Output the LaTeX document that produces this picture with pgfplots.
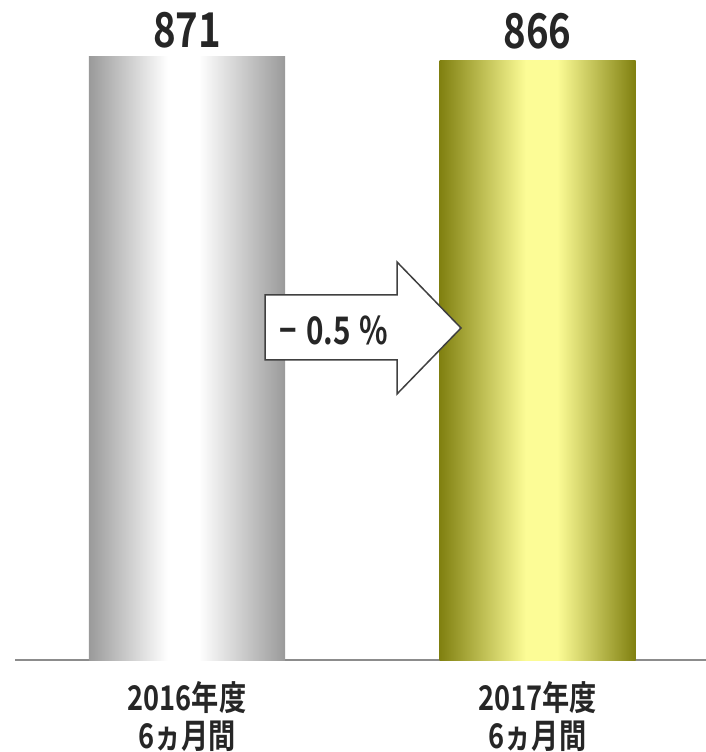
\documentclass[border=0pt]{standalone}
\usepackage{fontspec}
\usepackage{graphicx}
\usepackage{pgfplots}
\pgfplotsset{compat=1.18}
\newfontfamily\cjk{Noto Sans CJK JP Bold}
\definecolor{gA}{HTML}{9A9A9A}
\definecolor{oA}{HTML}{808010}
\definecolor{oB}{HTML}{FCFC96}
\definecolor{txt}{HTML}{262626}
\definecolor{axc}{HTML}{8C8C8C}
\pgfdeclarehorizontalshading{grayshade}{100bp}{color(0bp)=(gA); color(25bp)=(gA); color(45bp)=(white); color(53bp)=(white); color(75bp)=(gA); color(100bp)=(gA)}
\pgfdeclarehorizontalshading{oliveshade}{100bp}{color(0bp)=(oA); color(25bp)=(oA); color(47bp)=(oB); color(55bp)=(oB); color(75bp)=(oA); color(100bp)=(oA)}
\begin{document}
\begin{tikzpicture}[x=1pt,y=1pt]
\path[use as bounding box] (0,0) rectangle (706,752);
\begin{axis}[
  at={(15pt,92pt)}, anchor=south west,
  scale only axis, width=691pt, height=657.7pt,
  xmin=-0.4907, xmax=1.4807, ymin=0, ymax=950,
  axis x line*=bottom, axis y line=none,
  x axis line style={draw=axc, line width=2pt},
  xtick={0,1}, xticklabels={{\scalebox{0.8}[1]{2016年度}\\\scalebox{0.8}[1]{6ヵ月間}},{\scalebox{0.8}[1]{2017年度}\\\scalebox{0.8}[1]{6ヵ月間}}},
  xtick style={draw=none}, ytick=\empty,
  xticklabel style={align=center, font=\cjk\fontsize{34}{38}\selectfont, text=txt, inner sep=0pt, yshift=-21pt},
  point meta=explicit symbolic,
  nodes near coords={\scalebox{0.8}[1]{\pgfplotspointmeta}},
  nodes near coords style={font=\cjk\fontsize{48}{52}\selectfont, text=txt, anchor=base, inner sep=0pt},
  clip=false,
]
\addplot[ybar, bar width=196pt, bar shift=0pt, draw=none, shade, shading=grayshade,
  nodes near coords style={yshift=9pt}] coordinates {(0,871) [871]};
\addplot[ybar, bar width=196pt, bar shift=0pt, draw=none, shade, shading=oliveshade,
  nodes near coords style={yshift=12pt}] coordinates {(1,866) [866]};
\end{axis}
\draw[fill=white, draw=black!75, line width=1.5pt, line join=miter]
  (265,457) -- (397,457) -- (397,490) -- (461,424) -- (397,358) -- (397,392) -- (265,392) -- cycle;
\node[font=\cjk\fontsize{38}{40}\selectfont, text=txt, inner sep=0pt] at (334,422) {\scalebox{0.78}[1]{−\hspace{0.3em}0.5\hspace{0.3em}\%}};
\end{tikzpicture}
\end{document}
